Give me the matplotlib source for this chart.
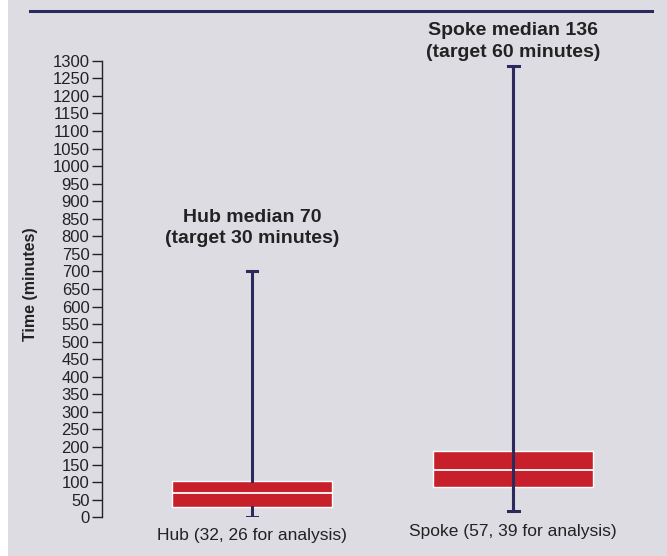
import matplotlib
matplotlib.use("Agg")
import matplotlib.pyplot as plt
from matplotlib.patches import Rectangle
from matplotlib.lines import Line2D

# Door-to-needle times by site type
groups = ["Hub (32, 26 for analysis)", "Spoke (57, 39 for analysis)"]
q1 = [30, 87]
medians = [70, 136]
q3 = [103, 189]
whisker_low = [0, 18]
whisker_high = [700, 1285]
median_labels = ["Hub median 70\n(target 30 minutes)", "Spoke median 136\n(target 60 minutes)"]
whisker_through_box = [False, True]
y_ticks = list(range(0, 1301, 50))

plt.rcParams["font.family"] = ["Liberation Sans Narrow", "Liberation Sans", "DejaVu Sans"]

BG = "#dedce3"
RED = "#c8202b"
NAVY = "#2c2a5c"
TEXT = "#222222"

W, H = 667, 556
fig = plt.figure(figsize=(W / 100, H / 100), dpi=100, facecolor="white")
fig.patches.append(Rectangle((8 / W, 0), 1 - 8 / W, 1, transform=fig.transFigure,
                             facecolor=BG, edgecolor="none", zorder=-10))
fig.add_artist(Line2D([30 / W, 652 / W], [1 - 11 / H, 1 - 11 / H], color=NAVY, lw=2.2))

# axes: y=0 at 517px, y=1300 at 61px from top; x=102..660px
ax = fig.add_axes([102 / W, (H - 517.3) / H, (660 - 102) / W, (517.3 - 60.7) / H])
ax.set_zorder(1)
ax.set_facecolor("none")
ax.set_ylim(0, 1300)
ax.set_xlim(0.4253, 2.563)

positions = [1, 2]
stats = []
for i in range(len(groups)):
    stats.append(dict(med=medians[i], q1=q1[i], q3=q3[i],
                      whislo=whisker_low[i], whishi=whisker_high[i], fliers=[]))

ax.bxp(stats, positions=positions, widths=0.613, capwidths=0.042, patch_artist=True,
       showfliers=False,
       boxprops=dict(facecolor=RED, edgecolor="white", linewidth=1.0),
       medianprops=dict(color="white", linewidth=1.3),
       whiskerprops=dict(color=NAVY, linewidth=2.2),
       capprops=dict(color=NAVY, linewidth=2.2))

for pos, lo, hi, through in zip(positions, whisker_low, whisker_high, whisker_through_box):
    if through:
        ax.vlines(pos, lo, hi, color=NAVY, linewidth=2.2, zorder=5)

for spine in ["top", "right", "bottom"]:
    ax.spines[spine].set_visible(False)
ax.spines["left"].set_color(TEXT)
ax.spines["left"].set_linewidth(1.0)
ax.spines["left"].set_bounds(0, 1300)

ax.set_yticks(y_ticks)
ax.set_yticklabels([str(v) for v in y_ticks], fontsize=12, color=TEXT)
ax.tick_params(axis="y", length=7, width=1.0, color=TEXT, pad=2)
ax.set_xticks([])

ax.set_ylabel("Time (minutes)", fontsize=11.5, fontweight="bold", color=TEXT)
ax.yaxis.set_label_coords((38 - 102) / (660 - 102), (517.3 - 284) / (517.3 - 60.7))

# category labels under each box
label_y_px = [535, 531]
for pos, name, ypx in zip(positions, groups, label_y_px):
    ax.text(pos, (517.3 - ypx) / 0.3512, name, ha="center", va="center",
            fontsize=12.5, color=TEXT, clip_on=False)

# median annotations above each whisker
ann_y_px = [228, 41.5]
for pos, txt, ypx in zip(positions, median_labels, ann_y_px):
    ax.text(pos, (517.3 - ypx) / 0.3512, txt, ha="center", va="center",
            fontsize=14, fontweight="bold", color=TEXT, linespacing=1.38,
            clip_on=False)

fig.savefig("out.png", dpi=100, facecolor="white")
